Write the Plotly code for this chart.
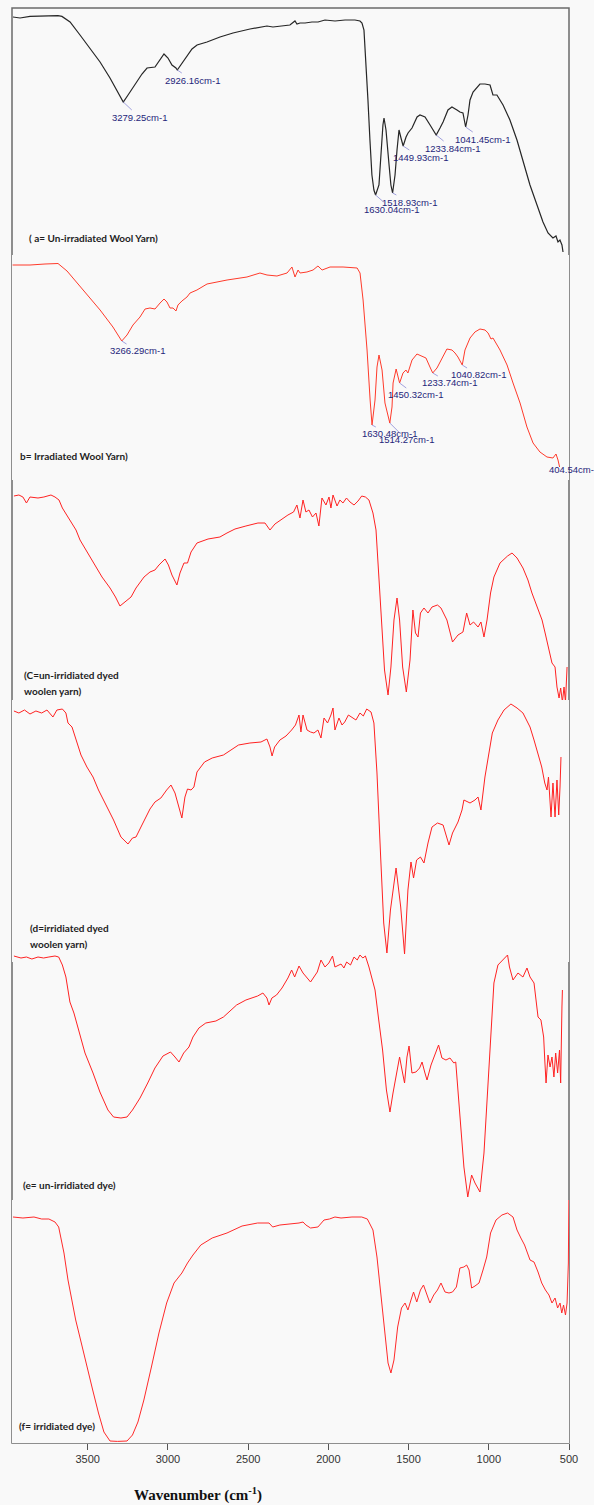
import plotly.graph_objects as go

# ---------------- FTIR spectra: wavenumber (cm-1) vs transmittance (%T, arbitrary offset) ----------------
wn_a = [4000, 3954, 3889, 3791, 3706, 3680, 3627, 3562, 3497, 3431, 3366, 3314, 3279.25, 3248, 3203, 3157,
        3124, 3072, 3013, 2987, 2961, 2935, 2926.16, 2895, 2876, 2856, 2830, 2797, 2732, 2647, 2562, 2451,
        2340, 2301, 2255, 2190, 2157, 2144, 2124, 2091, 2046, 2006, 1961, 1895, 1830, 1765, 1732, 1719,
        1706, 1693, 1680, 1667, 1654, 1641, 1630.04, 1608, 1595, 1582, 1575, 1562, 1542, 1530, 1518.93,
        1503, 1490, 1477, 1464, 1449.93, 1431, 1418, 1392, 1372, 1359, 1340, 1307, 1274, 1255, 1233.84,
        1209, 1189, 1157, 1131, 1098, 1079, 1059, 1041.45, 1026, 1013, 993, 967, 948, 915, 882, 863, 837,
        797, 752, 706, 667, 621, 575, 536, 503, 471, 451, 438, 425, 412, 405]
t_a = [121.5, 121.0, 121.8, 122, 122.2, 121.8, 119, 112.5, 106, 99, 91, 83.5, 79, 82.5, 88, 93,
       96, 96.5, 103, 101, 97.5, 96, 95, 98.5, 100, 102.5, 105.5, 107.5, 109, 111.5, 113.5, 115.5,
       117, 116.5, 117, 117.5, 119.5, 118, 118.5, 118.5, 119, 119, 120, 119.5, 120, 120, 119.5, 118.5,
       115, 100, 80, 60, 42.5, 35, 32.5, 37.5, 55, 67.5, 71, 65, 47.5, 37.5, 33.5,
       42.5, 55, 65, 61, 57, 61.5, 63.5, 66, 69, 71.5, 72.5, 71.5, 67.5, 65, 62.5,
       66, 69, 75, 76.5, 75, 74, 73.5, 66.5, 72.5, 80, 84, 86.5, 88, 88, 87.5, 82.5, 82.5,
       77.5, 70, 60, 50, 37.5, 27.5, 19, 13.5, 11, 12, 9, 10, 7.5, 4]

wn_b = [3980, 3866, 3768, 3683, 3624, 3520, 3408, 3324, 3266.29, 3232, 3193, 3147, 3114, 3082, 3049, 3016,
        2990, 2971, 2951, 2931, 2912, 2899, 2873, 2840, 2820, 2775, 2709, 2578, 2448, 2363, 2317, 2252,
        2186, 2154, 2134, 2114, 2101, 2056, 2016, 1984, 1957, 1905, 1820, 1728, 1709, 1689, 1663, 1643,
        1630.48, 1611, 1598, 1585, 1565, 1546, 1514.27, 1500, 1493, 1473, 1460, 1450.32, 1428, 1409, 1396,
        1369, 1337, 1304, 1278, 1252, 1233.74, 1206, 1173, 1141, 1108, 1088, 1069, 1040.82, 1023, 990, 958,
        925, 892, 872, 853, 840, 794, 748, 709, 663, 618, 578, 533, 487, 448, 428, 415, 404.54]
t_b = [107.5, 107.5, 108, 108.25, 104.5, 95, 85, 76.5, 69.5, 72.5, 77.5, 81.5, 85.5, 86, 85.5, 88.5,
       90.5, 89, 86, 86, 84.5, 87.5, 89.5, 91.5, 93.5, 95, 98, 100, 101.5, 103.5, 102.5, 102,
       103.5, 106.5, 101.5, 105, 103.5, 104, 105, 107, 105, 106.5, 106.5, 106, 103.5, 90, 65, 40,
       27.5, 40, 56.5, 62.5, 55, 38.5, 28.5, 36.5, 48.5, 55.5, 51.5, 48.5, 53.5, 55, 53.5,
       60, 63, 62, 61, 56.5, 53.5, 56, 61, 65.5, 65, 63.5, 61.5, 57.5, 65, 71, 74,
       75.5, 75, 73.5, 70.5, 71, 65, 57.5, 48.5, 38.5, 26.5, 18.5, 14, 11.5, 11, 13, 10, 6.5]

wn_c = [3960, 3929, 3904, 3882, 3860, 3810, 3773, 3729, 3704, 3679,
        3658, 3623, 3573, 3548, 3505, 3455, 3411, 3361, 3327, 3299,
        3268, 3230, 3199, 3149, 3112, 3081, 3056, 3018, 2997, 2975,
        2944, 2925, 2900, 2878, 2856, 2819, 2750, 2676, 2632, 2582,
        2514, 2439, 2395, 2364, 2333, 2289, 2252, 2217, 2196, 2177,
        2158, 2140, 2121, 2099, 2077, 2059, 2040, 2015, 1996, 1984,
        1971, 1946, 1928, 1909, 1887, 1865, 1840, 1815, 1792, 1769,
        1747, 1722, 1703, 1684,
        1666, 1650, 1628, 1610, 1591, 1572, 1556, 1537, 1514, 1491,
        1473, 1457, 1441, 1426, 1404, 1379, 1354, 1320, 1298, 1261,
        1226, 1192, 1161, 1138, 1117, 1095, 1067, 1049, 1030, 1011,
        989, 968, 930, 883, 855, 824, 787, 756, 731, 693,
        668, 646, 625, 606, 587, 575, 562, 552, 541, 531,
        522, 512]
t_c = [108, 108.5, 107.5, 104.5, 107.5, 107, 107.5, 108.5, 107.5, 106,
       102, 97.5, 91, 86, 80, 73.5, 67.5, 62, 57.5, 53,
       55, 57.5, 62, 67.5, 70, 71, 73.5, 76.5, 73.5, 68.5,
       63.5, 69.5, 74.5, 74.5, 80, 84.5, 86.5, 87.5, 89.5, 91.5,
       93, 94.5, 94.5, 91, 94, 96.5, 98.5, 100, 103.5, 97,
       106, 100, 101, 97.5, 99.5, 93, 107, 103.5, 107.5, 102,
       108.5, 103, 106, 104.5, 107, 105, 103.5, 105.5, 108, 107.5,
       106, 99.5, 91, 66,
       41, 21, 8.5, 22.5, 46, 57, 46, 22.5, 10, 26,
       51, 39.5, 37.5, 49.5, 52, 49.5, 52.5, 53.5, 52, 46,
       35, 38.5, 40, 49.5, 43.5, 45, 42.5, 45, 37.5, 46,
       59.5, 67.5, 74.5, 78, 79.5, 77, 72, 66, 59.5, 51,
       46, 38.5, 31, 24.5, 22.5, 12.5, 7, 12, 5, 12.5,
       5, 22.5]

wn_d = [3960, 3929, 3894, 3860, 3823, 3787, 3754, 3717, 3692, 3658,
        3636, 3623, 3598, 3573, 3542, 3505, 3467, 3433, 3386, 3339,
        3293, 3249, 3221, 3199, 3162, 3112, 3081, 3044, 3008, 2981,
        2956, 2931, 2913, 2894, 2878, 2856, 2838, 2819, 2772, 2724,
        2654, 2607, 2560, 2489, 2420, 2383, 2364, 2351, 2335, 2302,
        2264, 2229, 2205, 2183, 2171, 2158, 2133, 2111, 2090, 2065,
        2046, 2027, 2005, 1984, 1971, 1959, 1934, 1915, 1898, 1875,
        1853, 1828, 1803, 1782, 1761, 1734, 1716, 1697, 1674, 1655,
        1635, 1613, 1578, 1549,
        1525, 1504, 1485, 1469, 1450, 1426, 1404, 1379, 1354, 1320,
        1285, 1248, 1226, 1192, 1167, 1155, 1117, 1086, 1067, 1049,
        1024, 1001, 978, 943, 905, 862, 824, 787, 765, 743,
        718, 693, 670, 651, 637, 628, 612, 600, 587, 575,
        564, 556, 550]
t_d = [125.5, 124.5, 126, 124, 125.5, 124.5, 126, 122.5, 126, 126.5,
       124.5, 119.5, 117.5, 111, 103.5, 97.5, 92.5, 86, 78.5, 71,
       62.5, 59, 62, 62.5, 68.5, 76.5, 80, 82, 86, 88.5,
       84.5, 77.5, 72, 82.5, 86.5, 86, 87.5, 95, 100, 102,
       103.5, 106, 108.5, 109.5, 110, 111.5, 107.5, 103, 107.5, 111,
       113, 116, 118.5, 123.5, 115, 123.5, 116, 115, 114.5, 116,
       112, 122, 119.5, 123.5, 127, 116, 122, 118.5, 120, 123.5,
       122.5, 121, 124.5, 123, 126.5, 125, 119.5, 94.5, 52.5, 19.5,
       4.5, 26, 47, 27.5,
       4, 36, 50, 42, 51, 52.5, 49.5, 59.5, 67.5, 69.5,
       68.5, 58.5, 64.5, 70, 76, 81, 79.5, 81, 82.5, 76,
       92.5, 104.5, 114.5, 121, 126, 129, 127, 124.5, 121, 117.5,
       111, 104.5, 97.5, 89.5, 86, 92.5, 72.5, 89.5, 72.5, 91,
       73.5, 87.5, 102.5]

wn_e = [3960, 3916, 3882, 3848, 3810, 3775, 3742, 3704, 3681, 3658,
        3636, 3611, 3586, 3552, 3517, 3467, 3424, 3374, 3339, 3293,
        3255, 3221, 3174, 3126, 3081, 3031, 2984, 2956, 2931, 2902,
        2869, 2844, 2807, 2764, 2701, 2654, 2607, 2572, 2514, 2441,
        2408, 2383, 2370, 2352, 2323, 2289, 2252, 2229, 2210, 2183,
        2158, 2133, 2111, 2090, 2069, 2046, 2021, 1997, 1974, 1959,
        1921, 1903, 1886, 1862, 1840, 1820, 1803, 1785, 1769,
        1747, 1709, 1686, 1662, 1638,
        1616, 1597, 1578, 1556, 1541, 1525, 1510, 1497, 1479, 1454,
        1431, 1416, 1398, 1385, 1360, 1343, 1313, 1292, 1267, 1242,
        1218, 1206, 1192, 1173, 1155, 1131, 1107, 1086, 1055, 1030,
        1005, 982, 968, 943, 911, 895, 883, 871, 849, 818,
        787, 762, 743, 718, 706, 693, 675, 658, 651, 643,
        631, 618, 606, 594, 583, 571, 559, 552, 544, 541]
t_e = [124.5, 123.5, 124, 123, 124, 123.5, 124, 124.5, 124, 120,
       114, 101.5, 96, 86, 76, 66, 56.5, 47.5, 44, 43.5,
       44, 47.5, 53.5, 61, 68.5, 74.5, 76.5, 74, 71.5, 76,
       79, 84, 88.5, 91, 92, 94, 97.5, 100, 102.5, 104.5,
       106, 103.5, 100, 103.5, 105, 108.5, 113.5, 117.5, 114, 119.5,
       116, 113.5, 111.5, 114, 116.5, 122.5, 119, 121, 124.5, 119,
       120.5, 118.5, 121.5, 120, 124, 122.5, 125, 123.5, 124.5,
       119, 107.5, 92.5, 77.5, 57.5,
       46.5, 56, 64, 74, 67.5, 61, 74, 79.5, 66, 66.5,
       68.5, 71.5, 66, 62.5, 70, 73.5, 80, 73.5, 72.5, 73.5,
       71, 71.5, 57.5, 36, 19, 4, 15, 11, 6.5, 26,
       62.5, 96, 111, 120, 122.5, 124, 125, 119, 112.5, 116,
       114, 118.5, 114, 111, 103.5, 94, 92.5, 84, 72.5, 61,
       75, 69, 74, 64, 76, 66, 77.5, 61, 99, 107.5]

wn_f = [3966, 3904, 3835, 3787, 3742, 3704, 3681, 3667, 3648, 3623,
        3598, 3575, 3540, 3505, 3469, 3433, 3399, 3361, 3315, 3255,
        3221, 3187, 3150, 3103, 3056, 3008, 2962, 2913, 2878, 2844,
        2795, 2724, 2632, 2538, 2441, 2370, 2347, 2302, 2229, 2183,
        2158, 2140, 2111, 2065, 2027, 1993, 1959, 1921, 1853, 1792,
        1757, 1722, 1697, 1674, 1650, 1628, 1610, 1591, 1568, 1544,
        1522, 1504, 1485, 1469, 1449, 1426, 1407, 1385, 1367, 1343,
        1320, 1298, 1273, 1248, 1226, 1202, 1180, 1155, 1138, 1123,
        1107, 1086, 1061, 1036, 1013, 989, 955, 918, 883, 849,
        824, 800, 777, 743, 718, 693, 670, 647, 625, 606,
        587, 571, 556, 545, 534, 522, 512, 504, 501]
t_f = [113, 112.5, 113, 112, 112, 110.5, 108, 103, 95, 81.5,
       70, 61.5, 50, 38, 26.5, 15, 5.5, 1, 0.8, 1,
       4, 10.5, 21.5, 38, 55, 70, 80, 85, 90, 94,
       99, 102.5, 105, 108.5, 110, 110, 108, 109, 109.5, 110,
       110.5, 109, 107.5, 108, 111.5, 112, 113, 112.5, 113, 113,
       112, 106.5, 93, 75, 56.5, 40, 35, 41.5, 58, 67.5,
       70, 66.5, 71.5, 75.5, 70.5, 76.5, 79, 74, 70, 74,
       76.5, 80, 75.5, 75, 75.5, 78, 87.5, 88, 89, 86.5,
       77.5, 78.5, 80, 86.5, 93, 105, 111.5, 114, 115, 113,
       106.5, 102.5, 99, 91.5, 90.5, 85.5, 80, 76.5, 74, 70,
       72.5, 67.5, 70, 65, 69, 64, 70, 90, 121.5]

# labelled absorption bands of the two wool yarn spectra
peaks_a = [3279.25, 2926.16, 1630.04, 1518.93, 1449.93, 1233.84, 1041.45]
peaks_b = [3266.29, 1630.48, 1514.27, 1450.32, 1233.74, 1040.82, 404.54]

tick_vals = [3500, 3000, 2500, 2000, 1500, 1000, 500]

# ---------------- page geometry (px) ----------------
W, H = 594, 1505
ML, MR, MT, MB = 12, 25, 8, 62
PLOT_W = W - ML - MR
PLOT_H = H - MT - MB
Y_BOTTOM = H - MB


def fy(py):
    """page pixel row -> paper fraction"""
    return (Y_BOTTOM - py) / PLOT_H


def fx(px):
    return (px - ML) / PLOT_W


# vertical band (top px, bottom px) of each stacked spectrum; 1 %T unit spans 2 px
bands = [(8, 260), (255, 480), (485, 712), (700, 962), (945, 1205), (1200, 1443)]

spectra = [
    (wn_a, t_a, "x", "#262626", 1.2),
    (wn_b, t_b, "x3", "#ff3b2b", 1.0),
    (wn_c, t_c, "x2", "#ff2222", 1.0),
    (wn_d, t_d, "x2", "#ff2222", 1.0),
    (wn_e, t_e, "x2", "#ff2222", 1.0),
    (wn_f, t_f, "x2", "#ff2a2a", 1.0),
]

fig = go.Figure()
layout_axes = {}
for i, ((wn, tr, xa, col, lw), (top, bot)) in enumerate(zip(spectra, bands)):
    ya = "y" if i == 0 else f"y{i + 1}"
    fig.add_trace(go.Scatter(x=wn, y=tr, xaxis=xa, yaxis=ya, mode="lines",
                             line=dict(color=col, width=lw), hoverinfo="skip", showlegend=False))
    key = "yaxis" if i == 0 else f"yaxis{i + 1}"
    layout_axes[key] = dict(domain=[fy(bot), fy(top)], range=[0, (bot - top) / 2],
                            anchor=xa, visible=False, fixedrange=True)

# the two wool-yarn spectra were recorded over 4000-400 cm-1 on their own scale
layout_axes["xaxis"] = dict(domain=[0, 1], range=[4006.5, 365.9], anchor="y", visible=False)
layout_axes["xaxis3"] = dict(domain=[0, 1], range=[3983.7, 343.1], anchor="y2", visible=False)
layout_axes["xaxis2"] = dict(
    domain=[0, 1], range=[3972, 500], anchor="y6", side="bottom",
    tickvals=tick_vals, ticktext=[str(v) for v in tick_vals],
    ticks="outside", ticklen=6, tickwidth=1, tickcolor="#555555",
    tickfont=dict(family="Liberation Sans, Arial", size=11, color="#333333"),
    showgrid=False, zeroline=False, showline=False,
)

annotations = []

# peak labels: offsets (px) of the label from the band minimum
offs_a = [(16, 15), (15, 10), (16, 14), (17, 9), (17, 11), (16, 13), (17, 12)]
offs_b = [(16, 10), (17, 9), (17, 17), (16, 12), (17, 10), (16, 10), (14, 3)]
for peaks, wn, tr, xr, yr, offs in [(peaks_a, wn_a, t_a, "x", "y", offs_a),
                                    (peaks_b, wn_b, t_b, "x3", "y2", offs_b)]:
    for p, (ax, ay) in zip(peaks, offs):
        annotations.append(dict(
            x=p, y=tr[wn.index(p)], xref=xr, yref=yr, text=f"{p:.2f}cm-1",
            showarrow=True, arrowhead=0, arrowwidth=0.8, arrowcolor="#8a8ad6",
            ax=ax, ay=ay, standoff=0,
            font=dict(family="Liberation Sans, Arial", size=9.5, color="#25257a"),
        ))

# sample captions
captions = [
    ("( a= Un-irradiated Wool Yarn)", 27, 238),
    ("b= Irradiated Wool Yarn)", 18, 456),
    ("(C=un-irridiated dyed", 22, 675),
    ("woolen yarn)", 22, 691),
    ("(d=irridiated dyed", 28, 928),
    ("woolen yarn)", 28, 944),
    ("(e= un-irridiated dye)", 21, 1185),
    ("(f= irridiated dye)", 17, 1426),
]
for txt, px, py in captions:
    annotations.append(dict(
        x=fx(px), y=fy(py), xref="paper", yref="paper", text=txt, showarrow=False,
        xanchor="left", yanchor="middle",
        font=dict(family="Lato, Open Sans", size=10, color="#1e1e1e", weight="bold"),
    ))

# axis title
annotations.append(dict(
    x=fx(198), y=fy(1494), xref="paper", yref="paper", showarrow=False,
    text="<b>Wavenumber (cm<sup>-1</sup>)</b>", xanchor="center", yanchor="middle",
    font=dict(family="Liberation Serif, Times New Roman", size=15, color="#111111"),
))

fig.update_layout(
    width=W, height=H, margin=dict(l=ML, r=MR, t=MT, b=MB, autoexpand=False),
    paper_bgcolor="#f9f9f9", plot_bgcolor="#f9f9f9",
    annotations=annotations,
    shapes=[dict(type="rect", xref="paper", yref="paper", x0=0, x1=1, y0=0, y1=1,
                 line=dict(color="#6b6b6b", width=1.5), layer="below")],
    **layout_axes,
)

fig.write_html("out.html")
